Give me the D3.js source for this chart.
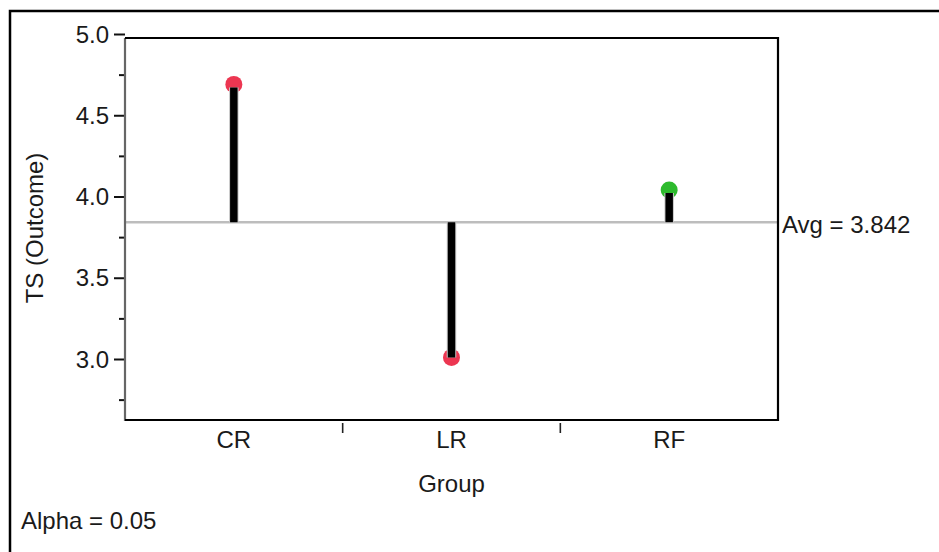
<!DOCTYPE html>
<html>
<head>
<meta charset="utf-8">
<script src="https://cdn.jsdelivr.net/npm/d3@7"></script>
<style>
  html, body { margin: 0; padding: 0; background: #fff; }
  svg { display: block; }
  text { font-family: "Liberation Sans", Arial, sans-serif; fill: #1a1a1a; }
</style>
</head>
<body>
<svg id="chart" width="939" height="552"></svg>
<script>
// Group means plotted against the overall average
const groups = ["CR", "LR", "RF"];
const means = [4.69, 3.01, 4.04];
const pointColors = ["#ec3651", "#ec3651", "#2dba2d"];
const average = 3.842;
const majorTicks = [3.0, 3.5, 4.0, 4.5, 5.0];
const minorTicks = [2.75, 3.25, 3.75, 4.25, 4.75];
const alphaText = "Alpha = 0.05";

const svg = d3.select("#chart");
const plotLeft = 125, plotRight = 778, plotTop = 38, plotBottom = 420;
const fs = 24;

const y = d3.scaleLinear().domain([3.0, 5.0]).range([359, 34]);
const x = d3.scaleBand().domain(groups).range([plotLeft, plotRight]);

// outer report frame (top and left edges)
svg.append("path")
  .attr("d", `M10,552 V11 H939`)
  .attr("fill", "none").attr("stroke", "#000").attr("stroke-width", 2.5);

// y axis: major ticks with labels, then unlabeled minor ticks
const yAxis = d3.axisLeft(y).tickValues(majorTicks).tickFormat(d3.format(".1f"))
  .tickSize(11).tickPadding(5);
const gy = svg.append("g").attr("transform", `translate(${plotLeft},0)`).call(yAxis);
gy.select(".domain").remove();
gy.selectAll(".tick line").attr("stroke", "#111").attr("stroke-width", 2);
gy.selectAll(".tick text").attr("font-size", fs).attr("font-family", "Liberation Sans, Arial, sans-serif")
  .attr("fill", "#1a1a1a").attr("dy", "0.34em");

const yMinor = d3.axisLeft(y).tickValues(minorTicks).tickFormat("").tickSize(6);
const gym = svg.append("g").attr("transform", `translate(${plotLeft},0)`).call(yMinor);
gym.select(".domain").remove();
gym.selectAll(".tick line").attr("stroke", "#111").attr("stroke-width", 2);

// x axis: category labels at band centres, separators at band edges
const gx = svg.append("g").attr("transform", `translate(0,${plotBottom})`);
groups.forEach(g => {
  gx.append("text")
    .attr("x", x(g) + x.bandwidth() / 2).attr("y", 28)
    .attr("text-anchor", "middle").attr("font-size", fs).text(g);
});
groups.slice(1).forEach(g => {
  gx.append("line")
    .attr("x1", x(g)).attr("x2", x(g)).attr("y1", 3).attr("y2", 13)
    .attr("stroke", "#222").attr("stroke-width", 1.6);
});

// average reference line
svg.append("line")
  .attr("x1", plotLeft).attr("x2", plotRight).attr("y1", y(average)).attr("y2", y(average))
  .attr("stroke", "#bdbdbd").attr("stroke-width", 2.5);

// points and stems from the average
const cx = g => x(g) + x.bandwidth() / 2;
svg.append("g").selectAll("circle").data(groups).join("circle")
  .attr("cx", d => cx(d)).attr("cy", (d, i) => y(means[i]))
  .attr("r", 8.5).attr("fill", (d, i) => pointColors[i]);

const stems = svg.append("g");
groups.forEach((g, i) => {
  const y0 = y(average), y1 = y(means[i]) + (means[i] > average ? 3 : 0);
  stems.append("line")
    .attr("x1", cx(g)).attr("x2", cx(g)).attr("y1", y0).attr("y2", y1)
    .attr("stroke", "#c8c8c8").attr("stroke-width", 9.5);
  stems.append("line")
    .attr("x1", cx(g)).attr("x2", cx(g)).attr("y1", y0).attr("y2", y1)
    .attr("stroke", "#000").attr("stroke-width", 7.5);
});

// plot frame: grey left edge, black top/right/bottom
svg.append("line").attr("x1", plotLeft).attr("x2", plotLeft).attr("y1", plotTop).attr("y2", plotBottom + 1)
  .attr("stroke", "#666").attr("stroke-width", 2.2);
svg.append("path")
  .attr("d", `M${plotLeft},${plotTop} H${plotRight} V${plotBottom} H${plotLeft}`)
  .attr("fill", "none").attr("stroke", "#000").attr("stroke-width", 2.2);

// labels
svg.append("text").attr("x", plotRight + 4).attr("y", y(average) + 11)
  .attr("font-size", fs).text(`Avg = ${average.toFixed(3)}`);
svg.append("text").attr("x", (plotLeft + plotRight) / 2).attr("y", 492)
  .attr("text-anchor", "middle").attr("font-size", fs).text("Group");
svg.append("text").attr("transform", "translate(43,228) rotate(-90)")
  .attr("text-anchor", "middle").attr("font-size", fs).text("TS (Outcome)");
svg.append("text").attr("x", 21).attr("y", 529)
  .attr("font-size", fs).text(alphaText);
</script>
</body>
</html>
